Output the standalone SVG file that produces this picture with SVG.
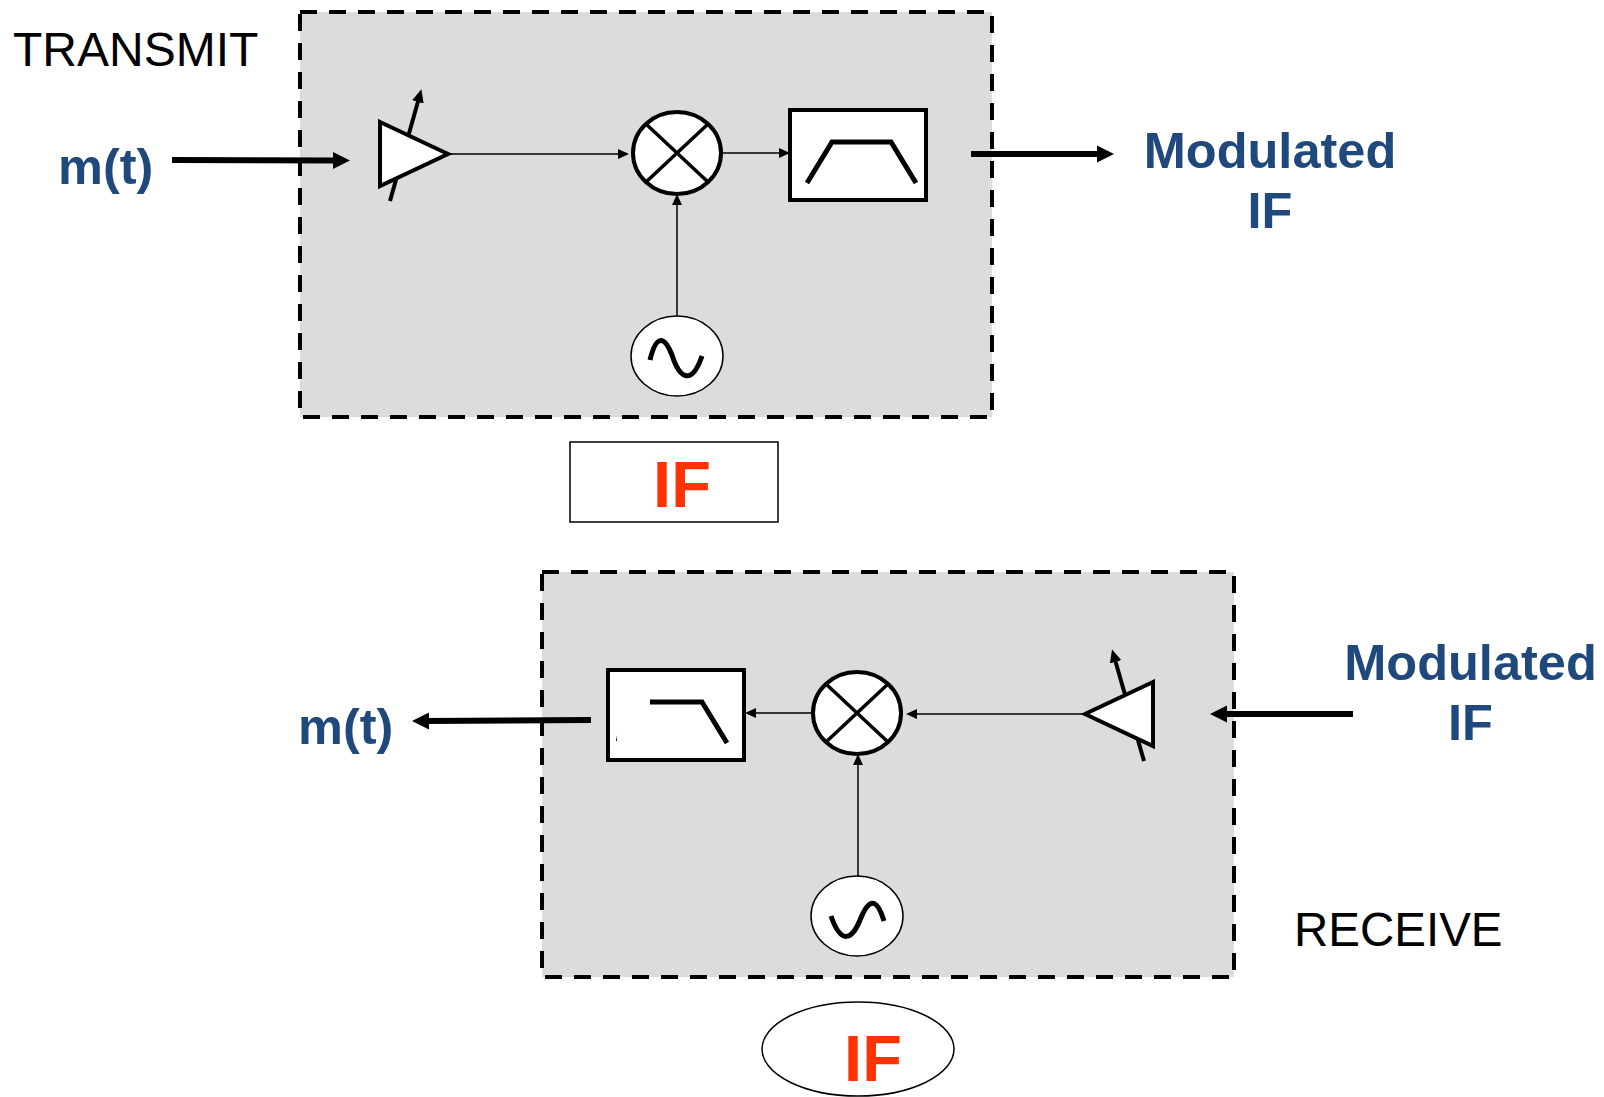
<svg xmlns="http://www.w3.org/2000/svg" width="1604" height="1097" viewBox="0 0 1604 1097">
<style>
text{font-family:"Liberation Sans",Arial,sans-serif}
.panel{fill:#dcdcdc;stroke:#000;stroke-width:4;stroke-dasharray:17 12}
.sym{fill:#fff;stroke:#000;stroke-width:4}
.lo{fill:#fff;stroke:#000;stroke-width:1.5}
.ink{fill:none;stroke:#000;stroke-width:5}
.thin{fill:none;stroke:#000;stroke-width:1.500}
.thick{fill:none;stroke:#000;stroke-width:6}
.gain{fill:none;stroke:#000;stroke-width:4}
.blue{font-weight:700;font-size:50.500px;fill:#1f497d}
.red{font-weight:700;font-size:65px;fill:#ff3300}
.blk{font-size:48px;fill:#000}
.mid{text-anchor:middle}
</style>
<defs>
<marker id="a" markerUnits="userSpaceOnUse" markerWidth="12" markerHeight="12" refX="3" refY="6" orient="auto"><path d="M0 1L11 6L0 11Z" fill="#000"/></marker>
<marker id="g" markerUnits="userSpaceOnUse" markerWidth="14" markerHeight="14" refX="3" refY="7" orient="auto"><path d="M0 1L13 7L0 13Z" fill="#000"/></marker>
<marker id="b" markerUnits="userSpaceOnUse" markerWidth="18" markerHeight="18" refX="3" refY="9" orient="auto"><path d="M0 .5L17 9L0 17.500Z" fill="#000"/></marker>
</defs>
<g id="transmit-panel"><rect class="panel" x="300" y="12" width="692" height="405"/></g>
<g id="receive-panel"><rect class="panel" x="542" y="572" width="692" height="405"/></g>
<g id="connectors">
<path class="thick" marker-end="url(#b)" d="M172 160L336 160.400"/>
<path class="thin" marker-end="url(#a)" d="M450 154L621 154"/>
<path class="thin" marker-end="url(#a)" d="M722 153L782 153"/>
<path class="thin" marker-end="url(#a)" d="M677 316L677 202"/>
<path class="thick" marker-end="url(#b)" d="M971 154L1100 154"/>
<path class="thick" marker-end="url(#b)" d="M591 720L426 721"/>
<path class="thin" marker-end="url(#a)" d="M812 713L753 713"/>
<path class="thin" marker-end="url(#a)" d="M1085 714L914 714"/>
<path class="thin" marker-end="url(#a)" d="M858 876L858 762"/>
<path class="thick" marker-end="url(#b)" d="M1353 714L1224 714"/>
</g>
<g id="tx-amp"><path class="gain" marker-end="url(#g)" d="M390 201L418.700 99"/><path class="sym" d="M380 122L448 154L380 186Z"/></g>
<g id="tx-mixer"><ellipse class="sym" cx="677" cy="153" rx="44" ry="41"/><path class="thin" style="stroke-width:3.500" d="M646 124L708 182M708 124L646 182"/></g>
<g id="tx-filter"><rect class="sym" x="790" y="110" width="136" height="90"/><path class="ink" d="M807 183L832 142H891L916 183"/></g>
<g id="tx-lo"><ellipse class="lo" cx="677" cy="356" rx="46" ry="40"/><path class="ink" d="M650 360C656 335 664 335 672 355C680 380 692 385 702 356"/></g>
<g id="rx-amp"><path class="gain" marker-end="url(#g)" d="M1144 761L1114.800 659"/><path class="sym" d="M1153 682L1085 714L1153 746Z"/></g>
<g id="rx-mixer"><ellipse class="sym" cx="857" cy="713" rx="44" ry="41"/><path class="thin" style="stroke-width:3.500" d="M826 684L888 742M888 684L826 742"/></g>
<g id="rx-filter"><rect class="sym" x="608" y="670" width="136" height="90"/><path class="ink" d="M650 702H702L727 743"/><path d="M616 741L617 735V741Z" fill="#000"/></g>
<g id="rx-lo"><ellipse class="lo" cx="857" cy="916" rx="46" ry="40"/><path class="ink" d="M831 916C841 945 852 940 860 920C868 900 876 895 884 921"/></g>
<g id="if-box"><rect x="570" y="442" width="208" height="80" fill="#fff" stroke="#000" stroke-width="1.500"/><text class="red mid" x="682" y="507">IF</text></g>
<g id="if-oval"><ellipse cx="858" cy="1049" rx="96" ry="47" fill="#fff" stroke="#000" stroke-width="1.500"/><text class="red mid" x="873" y="1081">IF</text></g>
<text class="blk" x="13" y="66">TRANSMIT</text>
<text class="blk" x="1294" y="946" style="font-size:47.500px">RECEIVE</text>
<text class="blue" x="58" y="184">m(t)</text>
<text class="blue" x="298" y="744">m(t)</text>
<text class="blue mid" x="1270" y="168">Modulated</text>
<text class="blue mid" x="1270" y="228">IF</text>
<text class="blue mid" x="1470.500" y="680">Modulated</text>
<text class="blue mid" x="1470.500" y="740">IF</text>
</svg>
